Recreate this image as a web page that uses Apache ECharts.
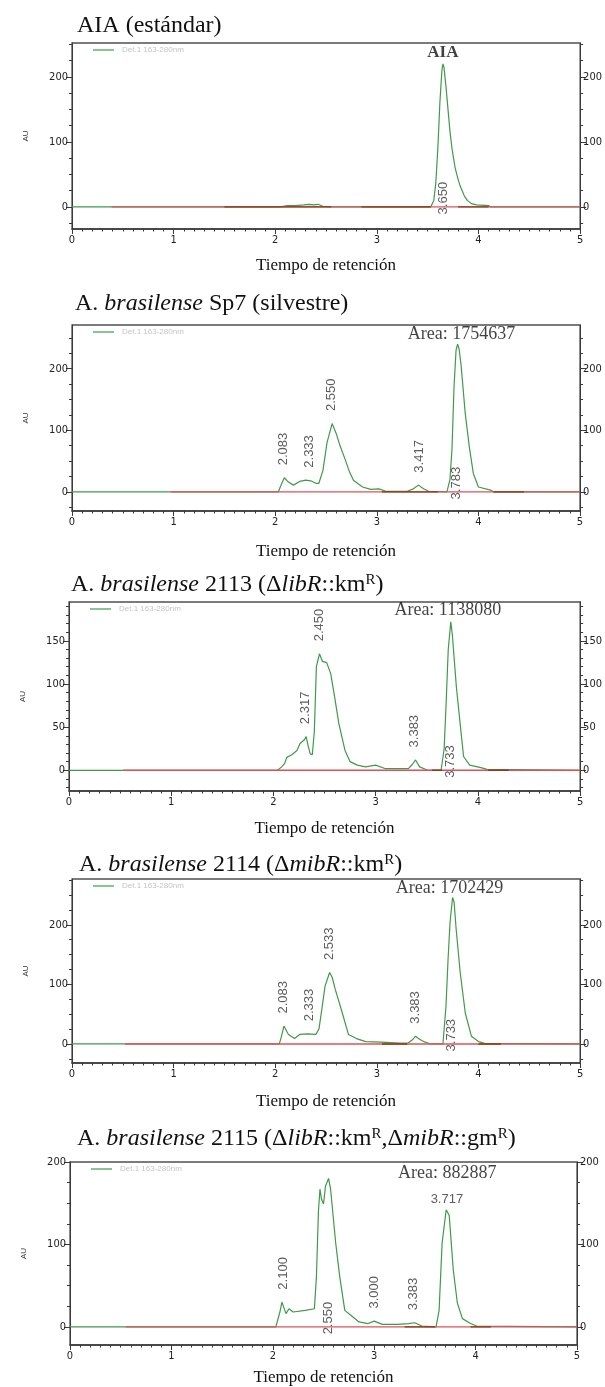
<!DOCTYPE html>
<html><head><meta charset="utf-8">
<script src="https://cdn.jsdelivr.net/npm/echarts@6/dist/echarts.min.js"></script>
<style>html,body{margin:0;padding:0;background:#fff}#c{width:605px;height:1387px}</style>
</head><body><div id="c"></div>
<script>
// ================= DATA =================
const X_TICKS = [0, 1, 2, 3, 4, 5];
// Panel 1: AIA (estándar)
const P1_time = [0,1.5,2.05,2.12,2.2,2.28,2.33,2.38,2.42,2.47,2.55,3.53,3.56,3.58,3.60,3.62,3.64,3.65,3.66,3.68,3.70,3.72,3.74,3.77,3.80,3.82,3.86,3.89,3.93,3.98,4.10,4.12,5.0];
const P1_au   = [0,0,0,2,2,3,4,3,4,1,0,0,10,37,90,160,210,220,215,185,150,115,89,60,42,32,17,10,5,3,2,0,0];
const P1_yTicks = [0, 100, 200];
const P1_topLblT = [], P1_topLblH = [];
const P1_baseLblT = [3.65];
const P1_peakName = 'AIA';
const P1_redStart = 0.39;
const P1_brown = [[1.5, 2.55], [2.85, 3.53], [3.8, 4.1]];

// Panel 2: Sp7
const P2_time = [0,2.03,2.06,2.09,2.13,2.18,2.24,2.30,2.35,2.40,2.43,2.47,2.51,2.56,2.60,2.64,2.69,2.73,2.77,2.86,2.94,3.02,3.09,3.30,3.36,3.41,3.46,3.51,3.69,3.72,3.74,3.76,3.78,3.795,3.81,3.83,3.87,3.91,3.95,4.00,4.12,4.15,5.0];
const P2_au   = [0,0,12,23,16,11,17,19,18,14,14,35,80,111,95,74,52,33,19,8,4,5,1,1,5,11,5,1,0,20,70,170,230,240,232,205,128,74,30,8,3,0,0];
const P2_yTicks = [0, 100, 200];
const P2_topLblT = [2.083, 2.333, 2.550, 3.417];
const P2_topLblH = [23, 19, 111, 11];
const P2_baseLblT = [3.783];
const P2_area = 'Area: 1754637';
const P2_redStart = 0.97;
const P2_brown = [[3.05, 3.6], [4.15, 4.45]];

// Panel 3: 2113
const P3_time = [0,2.04,2.08,2.11,2.13,2.18,2.23,2.26,2.30,2.32,2.34,2.36,2.38,2.40,2.42,2.45,2.48,2.52,2.56,2.60,2.64,2.70,2.75,2.82,2.90,3.00,3.09,3.32,3.36,3.39,3.43,3.51,3.64,3.67,3.69,3.71,3.735,3.75,3.79,3.83,3.86,3.92,4.03,4.09,5.0];
const P3_au   = [0,0,4,8,15,18,23,31,35,39,28,19,18,45,120,135,126,125,112,84,54,23,10,6,4,6,2,2,7,12,4,0,0,25,80,140,172,157,96,50,16,6,3,1,0];
const P3_yTicks = [0, 50, 100, 150];
const P3_topLblT = [2.317, 2.450, 3.383];
const P3_topLblH = [39, 135, 12];
const P3_baseLblT = [3.733];
const P3_area = 'Area: 1138080';
const P3_redStart = 0.53;
const P3_brown = [[3.55, 3.65], [4.1, 4.3]];

// Panel 4: 2114
const P4_time = [0,2.04,2.06,2.085,2.13,2.19,2.24,2.32,2.40,2.43,2.46,2.49,2.535,2.56,2.59,2.66,2.72,2.80,2.89,3.04,3.23,3.31,3.35,3.38,3.42,3.46,3.53,3.65,3.68,3.70,3.72,3.745,3.76,3.78,3.82,3.87,3.93,4.00,4.06,5.0];
const P4_au   = [0,0,12,30,16,9,16,17,16,25,60,97,120,112,92,52,16,9,4,3,1.5,2,7,13,8,4,0,0,63,140,204,246,238,193,120,52,13,4,1,0];
const P4_yTicks = [0, 100, 200];
const P4_topLblT = [2.083, 2.333, 2.533, 3.383];
const P4_topLblH = [30, 17, 120, 13];
const P4_baseLblT = [3.733];
const P4_area = 'Area: 1702429';
const P4_redStart = 0.52;
const P4_brown = [[3.05, 3.3], [4.0, 4.22]];

// Panel 5: 2115
const P5_time = [0,2.03,2.07,2.09,2.13,2.16,2.20,2.32,2.41,2.43,2.45,2.465,2.48,2.50,2.52,2.55,2.57,2.62,2.66,2.71,2.77,2.85,2.94,3.00,3.08,3.23,3.34,3.40,3.47,3.61,3.64,3.67,3.71,3.74,3.78,3.82,3.87,3.95,4.01,5.0];
const P5_au   = [0,0,18,30,16,22,18,20,22,60,140,167,155,149,171,180,167,102,61,20,14,6,4,7,3,3,4,5,1,0,20,102,142,135,69,29,10,4,1,0];
const P5_yTicks = [0, 100, 200];
const P5_topLblT = [2.100, 3.000, 3.383];
const P5_topLblH = [30, 7, 5];
const P5_baseLblT = [2.550];
const P5_flatLblT = [3.717];
const P5_flatLblH = [142];
const P5_area = 'Area: 882887';
const P5_redStart = 0.55;
const P5_brown = [[3.3, 3.6], [3.95, 4.15]];

const TITLES = [
  'AIA (estándar)',
  'A. {i|brasilense} Sp7 (silvestre)',
  'A. {i|brasilense} 2113 (Δ{i|libR}::km{sup|R})',
  'A. {i|brasilense} 2114 (Δ{i|mibR}::km{sup|R})',
  'A. {i|brasilense} 2115 (Δ{i|libR}::km{sup|R},Δ{i|mibR}::gm{sup|R})'
];
const X_NAME = 'Tiempo de retención';
const Y_NAME = 'AU';
const LEGEND_TXT = 'Det.1 163-280nm';

// ================= LAYOUT / STYLE =================
const serif = '"Liberation Serif","Times New Roman",serif';
const sans = '"Liberation Sans",Arial,sans-serif';
const narrow = '"Liberation Sans Narrow","DejaVu Sans Condensed","Liberation Sans",sans-serif';
const GREEN = '#3f9a4a', RED = '#e0505a', BROWN = '#8a3a18';
const MAIN_PEAK_FROM = 3.5; // main (AIA) peak search window start

const panels = [
  {time:P1_time, au:P1_au, ticks:P1_yTicks, topT:P1_topLblT, topH:P1_topLblH, baseT:P1_baseLblT, red:P1_redStart, brown:P1_brown,
   peakName:P1_peakName, top:43, h:186, left:72, right:24, min:-34, max:252, minor:25, nameGap:28, titleTop:14, titleLeft:77, areaDist:2},
  {time:P2_time, au:P2_au, ticks:P2_yTicks, topT:P2_topLblT, topH:P2_topLblH, baseT:P2_baseLblT, red:P2_redStart, brown:P2_brown,
   area:P2_area, top:325, h:186, left:72, right:25, min:-31, max:271, minor:25, nameGap:32, titleTop:292, titleLeft:75, areaDist:0, areaOff:4},
  {time:P3_time, au:P3_au, ticks:P3_yTicks, topT:P3_topLblT, topH:P3_topLblH, baseT:P3_baseLblT, red:P3_redStart, brown:P3_brown,
   area:P3_area, top:602, h:189, left:69, right:24, min:-24, max:195, minor:10, nameGap:29, titleTop:573, titleLeft:71, areaDist:2, areaOff:-3},
  {time:P4_time, au:P4_au, ticks:P4_yTicks, topT:P4_topLblT, topH:P4_topLblH, baseT:P4_baseLblT, red:P4_redStart, brown:P4_brown,
   area:P4_area, top:879, h:184, left:72, right:24, min:-32, max:277, minor:25, nameGap:30, titleTop:853, titleLeft:79, areaDist:0, areaOff:-3},
  {time:P5_time, au:P5_au, ticks:P5_yTicks, topT:P5_topLblT, topH:P5_topLblH, baseT:P5_baseLblT, red:P5_redStart, brown:P5_brown,
   flatT:P5_flatLblT, flatH:P5_flatLblH,
   area:P5_area, top:1162, h:183, left:70, right:28, min:-22, max:200, minor:25, nameGap:24, titleTop:1127, titleLeft:77, areaDist:27, areaOff:1}
];

const grid = [], xAxis = [], yAxis = [], series = [], title = [], graphic = [];
const axisCol = '#3a3a3a';
const tickLbl = {fontFamily: narrow, fontSize: 11, color: '#222'};
const transparentPt = {type: 'scatter', symbolSize: 1, itemStyle: {color: 'transparent'}, silent: true};

panels.forEach((p, i) => {
  grid.push({left: p.left, right: p.right, top: p.top, height: p.h, show: true, borderColor: '#505050', borderWidth: 1.3, containLabel: false});
  xAxis.push({gridIndex: i, type: 'value', min: 0, max: 5, interval: 1,
    axisLine: {onZero: false, lineStyle: {color: axisCol, width: 1.5}},
    axisTick: {length: 5, lineStyle: {color: axisCol}},
    minorTick: {show: true, splitNumber: 10, length: 2.5, lineStyle: {color: axisCol}},
    splitLine: {show: false},
    axisLabel: Object.assign({margin: 6, customValues: X_TICKS}, tickLbl),
    name: X_NAME, nameLocation: 'middle', nameGap: p.nameGap,
    nameTextStyle: {fontFamily: serif, fontSize: 17, color: '#111'}});
  const minorVals = [];
  for (let v = Math.ceil(p.min / p.minor) * p.minor; v <= p.max; v += p.minor) if (!p.ticks.includes(v)) minorVals.push(v);
  ['left', 'right'].forEach(pos => {
    yAxis.push({gridIndex: i, type: 'value', position: pos, min: p.min, max: p.max,
      axisLine: {show: true, onZero: false, lineStyle: {color: axisCol, width: 1}},
      axisTick: {show: true, length: 6, customValues: p.ticks, lineStyle: {color: axisCol}},
      axisLabel: Object.assign({margin: pos === 'left' ? 4 : 3, customValues: p.ticks}, tickLbl),
      splitLine: {show: false},
      name: pos === 'left' ? Y_NAME : '', nameLocation: 'middle', nameGap: 42, nameRotate: 90,
      nameTextStyle: {fontFamily: sans, fontSize: 8, color: '#333'}});
    yAxis.push({gridIndex: i, type: 'value', position: pos, min: p.min, max: p.max,
      axisLine: {show: false, onZero: false},
      axisTick: {show: true, length: 3, customValues: minorVals, lineStyle: {color: axisCol}},
      axisLabel: {show: false, customValues: []}, splitLine: {show: false}});
  });
  const yi = i * 4;
  const ax = {xAxisIndex: i, yAxisIndex: yi};
  // chromatogram trace
  series.push(Object.assign({type: 'line', data: p.time.map((t, k) => [t, p.au[k]]),
    symbol: 'none', lineStyle: {color: GREEN, width: 1.2}, silent: true, z: 2}, ax));
  // red baseline
  series.push(Object.assign({type: 'line', data: [[p.red, 0], [5, 0]],
    symbol: 'none', lineStyle: {color: RED, width: 1.4}, silent: true, z: 3}, ax));
  // integration baseline segments
  const bd = [];
  p.brown.forEach(s => { bd.push([s[0], 0], [s[1], 0], [s[1], '-']); });
  series.push(Object.assign({type: 'line', data: bd, connectNulls: false,
    symbol: 'none', lineStyle: {color: BROWN, width: 1.4}, silent: true, z: 4}, ax));
  const rotLbl = {show: true, formatter: q => q.data[2], rotate: 90, align: 'left', verticalAlign: 'middle',
    fontFamily: sans, fontSize: 13, color: '#333'};
  if (p.topT.length) series.push(Object.assign({}, transparentPt, ax, {z: 5,
    data: p.topT.map((t, k) => [t, p.topH[k], t.toFixed(3)]),
    label: Object.assign({position: 'top', distance: 12}, rotLbl)}));
  if (p.baseT.length) series.push(Object.assign({}, transparentPt, ax, {z: 5,
    data: p.baseT.map(t => [t, 0, t.toFixed(3)]),
    label: Object.assign({position: 'bottom', distance: 7}, rotLbl)}));
  if (p.flatT) series.push(Object.assign({}, transparentPt, ax, {z: 5,
    data: p.flatT.map((t, k) => [t, p.flatH[k], t.toFixed(3)]),
    label: {show: true, formatter: q => q.data[2], position: 'top', distance: 3, fontFamily: sans, fontSize: 13, color: '#333'}}));
  // apex of main peak -> area / name label
  let mi = -1;
  p.au.forEach((v, k) => { if (p.time[k] >= MAIN_PEAK_FROM && (mi < 0 || v > p.au[mi])) mi = k; });
  const apex = [p.time[mi], p.au[mi]];
  if (p.area) series.push(Object.assign({}, transparentPt, ax, {z: 6,
    data: [[apex[0], apex[1], p.area]],
    label: {show: true, formatter: q => q.data[2], position: 'top', distance: p.areaDist, offset: [p.areaOff || 0, 0],
      fontFamily: serif, fontSize: 18, color: '#111'}}));
  if (p.peakName) series.push(Object.assign({}, transparentPt, ax, {z: 6,
    data: [[apex[0], apex[1], p.peakName]],
    label: {show: true, formatter: q => q.data[2], position: 'top', distance: p.areaDist,
      fontFamily: serif, fontSize: 17, fontWeight: 'bold', color: '#111'}}));
  // panel title
  title.push({text: TITLES[i], left: p.titleLeft, top: p.titleTop, padding: 0,
    textStyle: {fontFamily: serif, fontSize: 24, fontWeight: 'normal', color: '#111',
      rich: {i: {fontFamily: serif, fontSize: 24, fontStyle: 'italic', color: '#111'},
             sup: {fontFamily: serif, fontSize: 15, color: '#111', verticalAlign: 'top'}}}});
  // legend stub
  graphic.push({type: 'line', shape: {x1: p.left + 21, y1: p.top + 7, x2: p.left + 42, y2: p.top + 7},
    style: {stroke: GREEN, lineWidth: 1.2}, silent: true});
  graphic.push({type: 'text', x: p.left + 50, y: p.top + 7,
    style: {text: LEGEND_TXT, font: '8px ' + sans, fill: '#c4c4c4', verticalAlign: 'middle'}, silent: true});
});

const chart = echarts.init(document.getElementById('c'), null, {renderer: 'canvas'});
chart.setOption({animation: false, backgroundColor: '#fff', title, grid, xAxis, yAxis, series, graphic});
</script>
</body></html>
